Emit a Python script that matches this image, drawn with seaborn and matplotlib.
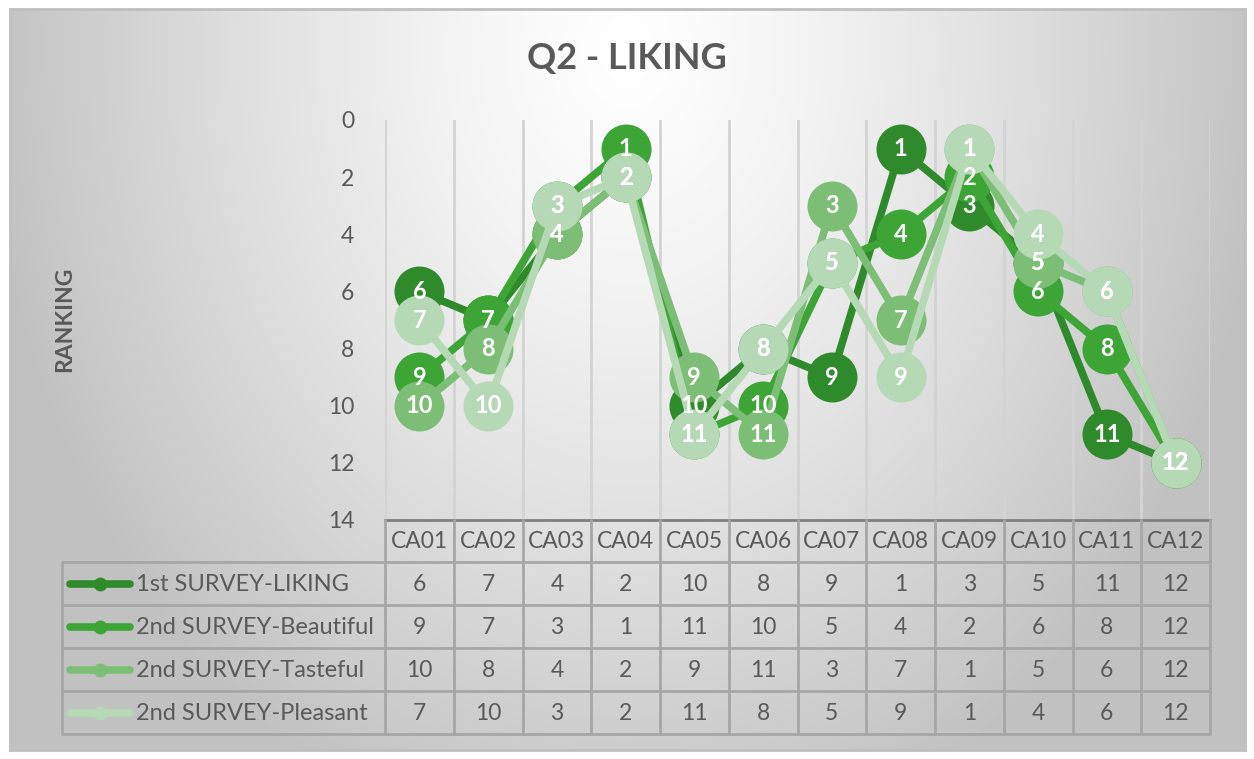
import numpy as np
import pandas as pd
import matplotlib
matplotlib.use("Agg")
import matplotlib.pyplot as plt
import seaborn as sns
from matplotlib.lines import Line2D

categories = ["CA01", "CA02", "CA03", "CA04", "CA05", "CA06",
              "CA07", "CA08", "CA09", "CA10", "CA11", "CA12"]
series_names = ["1st SURVEY-LIKING", "2nd SURVEY-Beautiful",
                "2nd SURVEY-Tasteful", "2nd SURVEY-Pleasant"]
liking = [6, 7, 4, 2, 10, 8, 9, 1, 3, 5, 11, 12]
beautiful = [9, 7, 3, 1, 11, 10, 5, 4, 2, 6, 8, 12]
tasteful = [10, 8, 4, 2, 9, 11, 3, 7, 1, 5, 6, 12]
pleasant = [7, 10, 3, 2, 11, 8, 5, 9, 1, 4, 6, 12]
y_ticks = [0, 2, 4, 6, 8, 10, 12, 14]
title = "Q2 - LIKING"
y_label = "RANKING"

colors = ["#2e8a2a", "#3ca535", "#7dbe77", "#b4d9b4"]
all_values = [liking, beautiful, tasteful, pleasant]

rows = []
for name, vals in zip(series_names, all_values):
    for c, v in zip(categories, vals):
        rows.append({"category": c, "series": name, "rank": v})
df = pd.DataFrame(rows)

sns.set_theme(style="white")
plt.rcParams["font.family"] = ["Lato", "DejaVu Sans"]

W, H = 1254, 759
fig = plt.figure(figsize=(W / 100, H / 100), dpi=100)
fig.patch.set_facecolor("white")

# background gradient panel
bg = fig.add_axes([10 / W, 1 - 750 / H, 1235 / W, 741 / H])
yy, xx = np.mgrid[0:741, 0:1235]
r = np.sqrt(((xx - 617) / 640.0) ** 2 + ((yy - 40) / 820.0) ** 2)
g = 1.0 - 0.24 * np.clip(r, 0, 1) ** 1.3
bg.imshow(np.dstack([g, g, g]), aspect="auto", extent=[0, 1, 0, 1], origin="upper")
bg.set_xticks([]); bg.set_yticks([])
for s in bg.spines.values():
    s.set_color("#bfbfbf"); s.set_linewidth(2)
bg.set_zorder(-10)

x0, x1, ytop, ybot = 385, 1210, 120, 520
ax = fig.add_axes([x0 / W, 1 - ybot / H, (x1 - x0) / W, (ybot - ytop) / H])
ax.patch.set_alpha(0)

text_col = "#595959"
for i, (name, col) in enumerate(zip(series_names, colors)):
    sub = df[df["series"] == name]
    sns.lineplot(data=sub, x="category", y="rank", ax=ax, color=col, lw=5.5,
                 marker="o", markersize=36, markeredgewidth=0, sort=False,
                 zorder=3 + i, legend=False)
for i, vals in enumerate(all_values):
    for xi, v in enumerate(vals):
        ax.text(xi, v, str(v), ha="center", va="center", color="white",
                fontsize=17, fontweight="bold", zorder=20)

ax.set_xlim(-0.5, len(categories) - 0.5)
ax.set_ylim(14, 0)
ax.set_yticks(y_ticks)
ax.set_yticklabels([str(t) for t in y_ticks], fontsize=16.5, color=text_col)
ax.tick_params(axis="y", length=0, pad=22)
ax.set_xticks([])
ax.set_xlabel(""); ax.set_ylabel("")
for k in range(len(categories) + 1):
    ax.axvline(k - 0.5, color="#d3d3d3", lw=2, zorder=1)
for s in ["top", "right", "left"]:
    ax.spines[s].set_visible(False)
ax.spines["bottom"].set_color("#7f7f7f")
ax.spines["bottom"].set_linewidth(2)
ax.spines["bottom"].set_zorder(30)

# data table
row_edges = [520, 562, 605, 648, 691, 734]
tab_left = 62
grid_col = "#a6a6a6"
ov = fig.add_axes([0, 0, 1, 1])
ov.set_xlim(0, W); ov.set_ylim(H, 0)
ov.axis("off")
ov.patch.set_alpha(0)
col_w = (x1 - x0) / len(categories)
for yv in row_edges[1:]:
    ov.plot([tab_left, x1], [yv, yv], color=grid_col, lw=2, solid_capstyle="butt")
ov.plot([tab_left, tab_left], [row_edges[1], row_edges[-1]], color=grid_col, lw=2)
for k in range(len(categories) + 1):
    xv = x0 + k * col_w
    ov.plot([xv, xv], [row_edges[0], row_edges[-1]], color=grid_col, lw=2)
for k, c in enumerate(categories):
    ov.text(x0 + (k + 0.5) * col_w, (row_edges[0] + row_edges[1]) / 2 + 1, c,
            ha="center", va="center", fontsize=16.5, color=text_col)
for j, (name, vals, col) in enumerate(zip(series_names, all_values, colors)):
    yc = (row_edges[j + 1] + row_edges[j + 2]) / 2
    ov.add_line(Line2D([70, 130], [yc, yc], color=col, lw=5.5, solid_capstyle="round"))
    ov.plot([100], [yc], marker="o", markersize=10, color=col, markeredgewidth=0)
    ov.text(136, yc + 1, name, ha="left", va="center", fontsize=17, color=text_col)
    for k, v in enumerate(vals):
        ov.text(x0 + (k + 0.5) * col_w, yc + 1, str(v), ha="center", va="center",
                fontsize=16.5, color=text_col)

ov.text(627, 58, title, ha="center", va="center", fontsize=26, fontweight="bold",
        color=text_col)
ov.text(65, 319, y_label, ha="center", va="center", rotation=90, fontsize=16.5,
        fontweight="bold", color=text_col)

fig.savefig("out.png", dpi=100)
